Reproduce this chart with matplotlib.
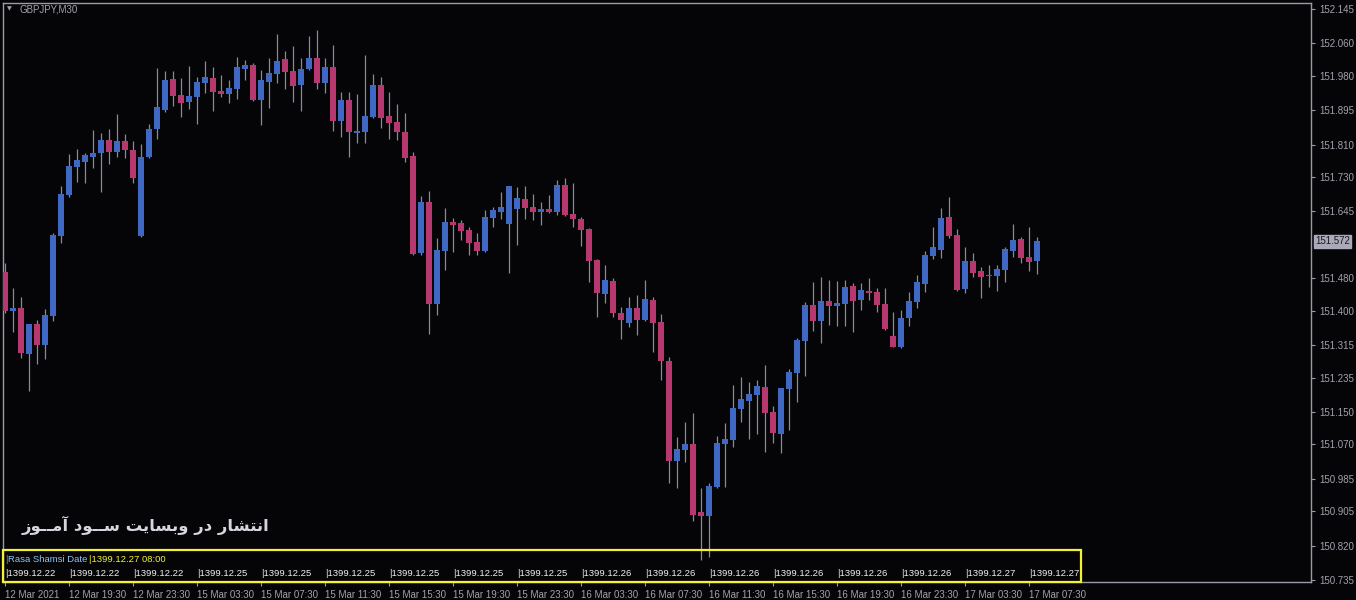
import matplotlib
matplotlib.use("Agg")
import matplotlib.pyplot as plt
from matplotlib.patches import Rectangle

# ---------------- data (GBPJPY, M30) ----------------
opens = [151.495, 151.399, 151.406, 151.293, 151.367, 151.315, 151.386, 151.584, 151.685, 151.755,
         151.767, 151.779, 151.789, 151.821, 151.792, 151.819, 151.797, 151.584, 151.779, 151.848,
         151.895, 151.972, 151.932, 151.915, 151.927, 151.962, 151.974, 151.942, 151.935, 151.947,
         151.997, 152.006, 151.920, 151.964, 151.984, 152.021, 151.992, 151.957, 151.997, 152.024,
         151.962, 152.002, 151.868, 151.920, 151.838, 151.841, 151.878, 151.957, 151.880, 151.866,
         151.841, 151.782, 151.542, 151.668, 151.416, 151.547, 151.619, 151.616, 151.599, 151.569,
         151.547, 151.629, 151.643, 151.614, 151.651, 151.675, 151.656, 151.643, 151.651, 151.643,
         151.710, 151.638, 151.626, 151.601, 151.525, 151.441, 151.473, 151.394, 151.369, 151.406,
         151.377, 151.426, 151.372, 151.275, 151.028, 151.056, 151.070, 150.902, 150.892, 150.964,
         151.070, 151.080, 151.157, 151.177, 151.191, 151.211, 151.149, 151.095, 151.206, 151.246,
         151.325, 151.414, 151.374, 151.424, 151.411, 151.416, 151.461, 151.426, 151.448, 151.446,
         151.416, 151.337, 151.310, 151.382, 151.421, 151.466, 151.535, 151.550, 151.631, 151.587,
         151.453, 151.522, 151.498, 151.488, 151.485, 151.500, 151.547, 151.577, 151.532, 151.522]
highs = [151.517, 151.456, 151.433, 151.367, 151.377, 151.404, 151.591, 151.708, 151.787, 151.799,
         151.789, 151.846, 151.838, 151.848, 151.885, 151.836, 151.819, 151.811, 151.861, 151.999,
         151.992, 151.992, 151.974, 152.004, 151.977, 152.016, 152.002, 151.982, 151.969, 152.026,
         152.019, 152.011, 151.994, 152.024, 152.083, 152.041, 152.053, 152.024, 152.078, 152.093,
         152.024, 152.056, 151.940, 151.940, 151.935, 152.031, 151.984, 151.977, 151.940, 151.910,
         151.888, 151.792, 151.683, 151.695, 151.579, 151.653, 151.629, 151.624, 151.606, 151.591,
         151.648, 151.656, 151.693, 151.708, 151.705, 151.708, 151.688, 151.668, 151.685, 151.722,
         151.727, 151.715, 151.631, 151.604, 151.527, 151.512, 151.480, 151.409, 151.433, 151.438,
         151.475, 151.433, 151.391, 151.285, 151.088, 151.125, 151.147, 150.962, 150.974, 151.090,
         151.122, 151.216, 151.236, 151.223, 151.228, 151.265, 151.164, 151.209, 151.256, 151.332,
         151.421, 151.470, 151.483, 151.475, 151.473, 151.475, 151.468, 151.468, 151.480, 151.456,
         151.456, 151.396, 151.401, 151.446, 151.488, 151.547, 151.606, 151.653, 151.680, 151.601,
         151.557, 151.542, 151.508, 151.512, 151.512, 151.557, 151.614, 151.582, 151.606, 151.582]
lows = [151.394, 151.347, 151.283, 151.201, 151.268, 151.280, 151.374, 151.567, 151.680, 151.717,
        151.715, 151.752, 151.693, 151.762, 151.779, 151.777, 151.715, 151.582, 151.777, 151.824,
        151.890, 151.905, 151.878, 151.898, 151.861, 151.937, 151.893, 151.927, 151.913, 151.922,
        151.969, 151.918, 151.858, 151.900, 151.962, 151.947, 151.915, 151.893, 151.994, 151.947,
        151.937, 151.843, 151.829, 151.779, 151.814, 151.814, 151.876, 151.851, 151.824, 151.821,
        151.767, 151.537, 151.537, 151.342, 151.389, 151.500, 151.545, 151.574, 151.537, 151.537,
        151.545, 151.606, 151.626, 151.493, 151.562, 151.626, 151.624, 151.611, 151.641, 151.636,
        151.633, 151.606, 151.559, 151.470, 151.384, 151.419, 151.384, 151.330, 151.359, 151.340,
        151.374, 151.298, 151.228, 150.974, 150.962, 151.026, 150.880, 150.784, 150.791, 150.962,
        150.964, 151.063, 151.125, 151.083, 151.095, 151.051, 151.073, 151.048, 151.105, 151.174,
        151.238, 151.349, 151.320, 151.364, 151.362, 151.362, 151.347, 151.401, 151.426, 151.396,
        151.352, 151.310, 151.307, 151.362, 151.406, 151.446, 151.527, 151.530, 151.580, 151.448,
        151.443, 151.483, 151.431, 151.458, 151.448, 151.470, 151.532, 151.517, 151.498, 151.490]
closes = [151.399, 151.406, 151.295, 151.367, 151.315, 151.389, 151.587, 151.688, 151.757, 151.772,
          151.784, 151.789, 151.821, 151.792, 151.819, 151.797, 151.727, 151.779, 151.848, 151.903,
          151.969, 151.930, 151.913, 151.930, 151.964, 151.977, 151.940, 151.935, 151.950, 152.002,
          152.006, 151.920, 151.969, 151.987, 152.016, 151.989, 151.955, 151.997, 152.024, 151.962,
          152.002, 151.868, 151.920, 151.841, 151.843, 151.880, 151.957, 151.876, 151.863, 151.841,
          151.777, 151.540, 151.668, 151.416, 151.550, 151.619, 151.611, 151.596, 151.567, 151.547,
          151.631, 151.648, 151.656, 151.708, 151.678, 151.653, 151.643, 151.651, 151.643, 151.710,
          151.636, 151.626, 151.599, 151.522, 151.443, 151.475, 151.394, 151.377, 151.406, 151.377,
          151.428, 151.369, 151.275, 151.028, 151.058, 151.070, 150.895, 150.892, 150.967, 151.073,
          151.083, 151.159, 151.181, 151.194, 151.214, 151.147, 151.097, 151.209, 151.248, 151.327,
          151.414, 151.374, 151.424, 151.411, 151.419, 151.458, 151.424, 151.451, 151.443, 151.414,
          151.354, 151.310, 151.382, 151.424, 151.470, 151.537, 151.557, 151.629, 151.584, 151.451,
          151.522, 151.493, 151.483, 151.485, 151.503, 151.552, 151.574, 151.530, 151.520, 151.572]

time_labels = ["12 Mar 2021", "12 Mar 19:30", "12 Mar 23:30", "15 Mar 03:30", "15 Mar 07:30",
               "15 Mar 11:30", "15 Mar 15:30", "15 Mar 19:30", "15 Mar 23:30", "16 Mar 03:30",
               "16 Mar 07:30", "16 Mar 11:30", "16 Mar 15:30", "16 Mar 19:30", "16 Mar 23:30",
               "17 Mar 03:30", "17 Mar 07:30"]
shamsi_labels = ["1399.12.22", "1399.12.22", "1399.12.22", "1399.12.25", "1399.12.25",
                 "1399.12.25", "1399.12.25", "1399.12.25", "1399.12.25", "1399.12.26",
                 "1399.12.26", "1399.12.26", "1399.12.26", "1399.12.26", "1399.12.26",
                 "1399.12.27", "1399.12.27"]
price_ticks = [152.145, 152.060, 151.980, 151.895, 151.810, 151.730, 151.645, 151.480,
               151.400, 151.315, 151.235, 151.150, 151.070, 150.985, 150.905, 150.820, 150.735]
current_price = 151.572
symbol_title = "GBPJPY,M30"
indicator_name = "Rasa Shamsi Date"
indicator_value = "1399.12.27 08:00"
watermark = "انتشار در وبسایت ســود آمــوز"
label_step = 8

# ---------------- style ----------------
BG = "#050508"
BULL = "#3e68c4"
BEAR = "#b6386f"
WICK = "#8a8a90"
AXC = "#9a9aa8"
TXT = "#a2a2ac"
YEL = "#f2f232"
W, H = 1356, 600

plt.rcParams["font.family"] = ["Liberation Sans", "DejaVu Sans"]

# simple Arabic-script shaping (presentation forms + visual order)
FORMS = {
    "ا": ("\uFE8D", "\uFE8E", None, None),
    "آ": ("\uFE81", "\uFE82", None, None),
    "ب": ("\uFE8F", "\uFE90", "\uFE91", "\uFE92"),
    "ت": ("\uFE95", "\uFE96", "\uFE97", "\uFE98"),
    "ن": ("\uFEE5", "\uFEE6", "\uFEE7", "\uFEE8"),
    "ش": ("\uFEB5", "\uFEB6", "\uFEB7", "\uFEB8"),
    "س": ("\uFEB1", "\uFEB2", "\uFEB3", "\uFEB4"),
    "ر": ("\uFEAD", "\uFEAE", None, None),
    "ز": ("\uFEAF", "\uFEB0", None, None),
    "د": ("\uFEA9", "\uFEAA", None, None),
    "و": ("\uFEED", "\uFEEE", None, None),
    "م": ("\uFEE1", "\uFEE2", "\uFEE3", "\uFEE4"),
    "ی": ("\uFBFC", "\uFBFD", "\uFBFE", "\uFBFF"),
    "ـ": ("ـ", "ـ", "ـ", "ـ"),
}


def shape_rtl(text):
    out = []
    n = len(text)
    for k, ch in enumerate(text):
        f = FORMS.get(ch)
        if f is None:
            out.append(ch)
            continue
        prev = text[k - 1] if k > 0 else None
        nxt = text[k + 1] if k < n - 1 else None
        jp = prev in FORMS and FORMS[prev][2] is not None
        jn = nxt in FORMS and f[2] is not None
        if jp and jn:
            out.append(f[3])
        elif jp:
            out.append(f[1])
        elif jn:
            out.append(f[2])
        else:
            out.append(f[0])
    return "".join(reversed(out))


fig = plt.figure(figsize=(W / 100, H / 100), dpi=100, facecolor=BG)
ax = fig.add_axes([3 / W, 18 / H, 1308 / W, 579 / H])
ax.set_facecolor(BG)

n = len(opens)
xs = list(range(n))
ax.vlines(xs, lows, highs, color=WICK, linewidth=0.9, zorder=2)
bottoms = [min(o, c) for o, c in zip(opens, closes)]
heights = [max(abs(c - o), 0.0025) for o, c in zip(opens, closes)]
cols = [BULL if c >= o else BEAR for o, c in zip(opens, closes)]
ax.bar(xs, heights, bottom=bottoms, width=0.78, color=cols, linewidth=0, zorder=3)

# scales: candle i centred at pixel 4.7 + 8 i ; price axis 152.145 @ y=9 .. 150.735 @ y=580
ax.set_xlim((3 - 4.7) / 8, (1311 - 4.7) / 8)
kpx = (152.145 - 150.735) / 571.0
ax.set_ylim(150.735 - 2 * kpx, 152.145 + 6 * kpx)

for s in ax.spines.values():
    s.set_color(AXC)
    s.set_linewidth(1.0)

ax.yaxis.tick_right()
ax.set_yticks(price_ticks)
ax.set_yticklabels([f"{p:.3f}" for p in price_ticks])
ax.tick_params(axis="y", direction="out", length=3, width=0.8, color=AXC,
               labelcolor=TXT, labelsize=7, pad=3)

tick_idx = list(range(0, n, label_step))[:len(time_labels)]
ax.set_xticks(tick_idx)
ax.set_xticklabels(time_labels, ha="left")
ax.tick_params(axis="x", direction="out", length=3, width=0.8, color=AXC,
               labelcolor=TXT, labelsize=7, pad=3)
for lab in ax.get_xticklabels():
    lab.set_horizontalalignment("left")

# current price marker
ax.annotate(f"{current_price:.3f}", xy=(1.0, current_price), xycoords=("axes fraction", "data"),
            xytext=(3, 0), textcoords="offset points", ha="left", va="center",
            fontsize=7, color="#1a1a24",
            bbox=dict(boxstyle="square,pad=0.15", fc="#a9a9b8", ec="#a9a9b8"),
            annotation_clip=False)

# title
fig.text(9 / W, 1 - 9 / H, "\u25bc", color=TXT, fontsize=4.5, ha="center", va="center",
         family="DejaVu Sans")
fig.text(19 / W, 1 - 9.5 / H, symbol_title, color=TXT, fontsize=7, ha="left", va="center")

# watermark
fig.text(22 / W, 1 - 525 / H, shape_rtl(watermark), color="#d6d6de", fontsize=11.8,
         fontweight="bold", ha="left", va="center", family="DejaVu Sans")

# Shamsi date panel
fig.patches.append(Rectangle((3 / W, 1 - 582 / H), 1078 / W, 32 / H, transform=fig.transFigure,
                             fill=False, ec=YEL, lw=1.6, zorder=10))
fig.text(5 / W, 1 - 559 / H, "|", color="#7090b0", fontsize=6.8, ha="left", va="center")
fig.text(8 / W, 1 - 559 / H, indicator_name, color="#8fc3f0", fontsize=6.8, ha="left", va="center")
fig.text(89 / W, 1 - 559 / H, "|" + indicator_value, color=YEL, fontsize=6.8, ha="left", va="center")
ax_tr = ax.transData
for i, lab in zip(tick_idx, shamsi_labels):
    xpix = ax_tr.transform((i, 151.0))[0]
    fig.text((xpix + 0.3) / W, 1 - 573.5 / H, "|" + lab, color="#f0f0f0", fontsize=6.8,
             ha="left", va="center")

fig.savefig("out.png", dpi=100, facecolor=BG)
